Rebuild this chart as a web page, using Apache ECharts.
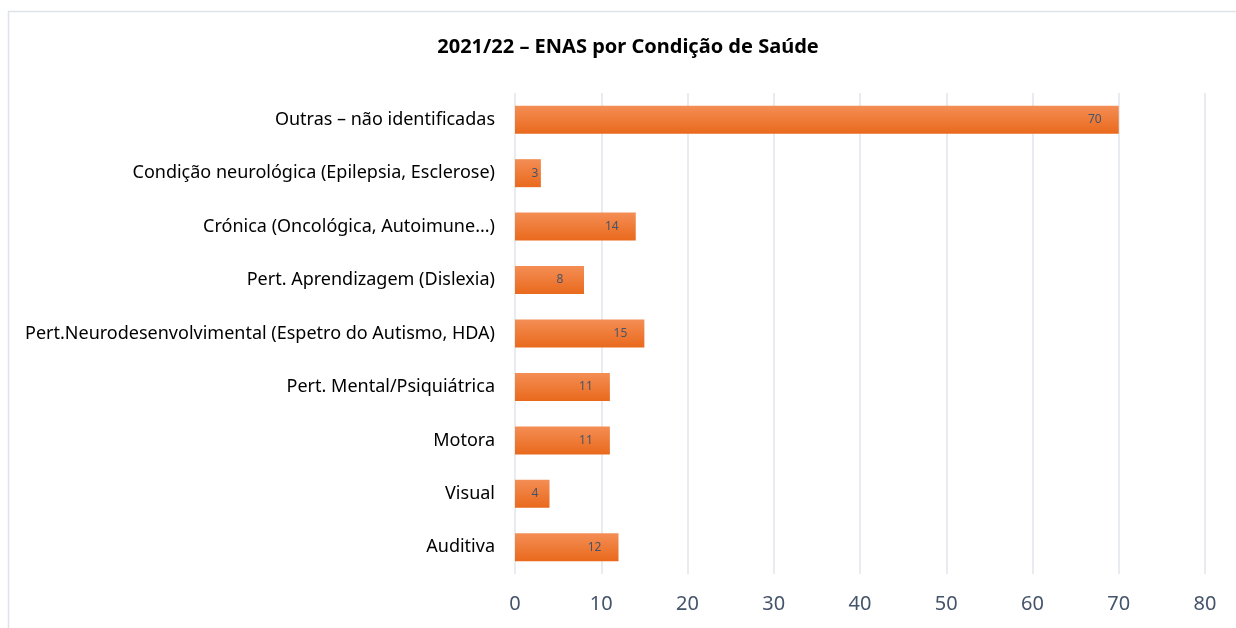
<!DOCTYPE html>
<html>
<head>
<meta charset="utf-8">
<script src="https://cdn.jsdelivr.net/npm/echarts@6/dist/echarts.min.js"></script>
<style>
    html, body { margin: 0; padding: 0; background: #fff; }
    #chart { width: 1236px; height: 628px; }
</style>
</head>
<body>
<div id="chart"></div>
<script>
// categories listed top to bottom, as in the picture
const categories = [
    'Outras – não identificadas',
    'Condição neurológica (Epilepsia, Esclerose)',
    'Crónica (Oncológica, Autoimune...)',
    'Pert. Aprendizagem (Dislexia)',
    'Pert.Neurodesenvolvimental (Espetro do Autismo, HDA)',
    'Pert. Mental/Psiquiátrica',
    'Motora',
    'Visual',
    'Auditiva'
];
const values = [70, 3, 14, 8, 15, 11, 11, 4, 12];
const title = '2021/22 – ENAS por Condição de Saúde';

const chart = echarts.init(document.getElementById('chart'));

const option = {
    animation: false,
    textStyle: { fontFamily: 'Noto Sans' },
    title: {
        text: title,
        left: 623,
        top: 32,
        textAlign: 'center',
        textStyle: { fontSize: 20, fontWeight: 'bold', color: '#000', fontFamily: 'Noto Sans' }
    },
    graphic: [{
        type: 'rect',
        shape: { x: 8.5, y: 11.5, width: 1300, height: 700 },
        style: { fill: 'none', stroke: '#dfe3e8', lineWidth: 1.5 },
        silent: true
    }],
    grid: { left: 515, right: 31, top: 93, bottom: 54, containLabel: false },
    xAxis: {
        type: 'value',
        min: 0,
        max: 80,
        interval: 10,
        axisLine: { show: false },
        axisTick: { show: false },
        axisLabel: { fontSize: 20, color: '#44546a', margin: 20 },
        splitLine: { lineStyle: { color: '#e1e5ea', width: 1.5 } }
    },
    yAxis: {
        type: 'category',
        data: categories,
        inverse: true,
        axisLine: { show: false },
        axisTick: { show: false },
        axisLabel: { fontSize: 18, color: '#000', margin: 20 }
    },
    series: [{
        type: 'bar',
        data: values,
        barWidth: 28,
        itemStyle: {
            color: new echarts.graphic.LinearGradient(0, 0, 0, 1, [
                { offset: 0, color: '#f48e55' },
                { offset: 1, color: '#e9691c' }
            ])
        },
        label: {
            show: true,
            position: 'inside',
            fontSize: 12,
            color: '#44546a'
        },
        // Excel style "inside end": label sits near the end, but not past the bar start
        labelLayout: function (params) {
            const r = params.rect;
            const x = Math.max(r.x + r.width - 24, r.x + 20);
            return { x: x, y: r.y + r.height / 2, align: 'center', verticalAlign: 'middle' };
        }
    }]
};

chart.setOption(option);
</script>
</body>
</html>
